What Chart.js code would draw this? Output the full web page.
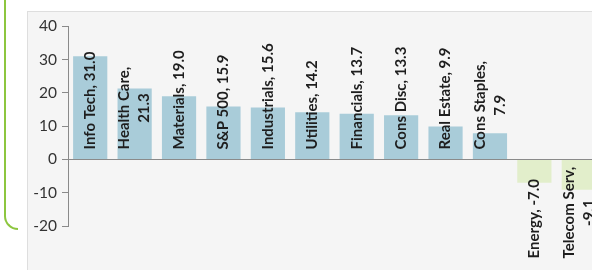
<!DOCTYPE html>
<html>
<head>
<meta charset="utf-8">
<script src="https://cdn.jsdelivr.net/npm/chart.js@4.4.1/dist/chart.umd.min.js"></script>
<style>
    html, body { margin: 0; padding: 0; background: #fff; overflow: hidden; width: 592px; height: 270px; }
    #bracket {
        position: absolute; left: 4px; top: -10px; width: 12px; height: 238px;
        border-left: 2.5px solid #8dc63f; border-bottom: 2.5px solid #8dc63f;
        border-bottom-left-radius: 14px;
    }
    #panel {
        position: absolute; left: 27px; top: 11px; width: 600px; height: 300px;
        background: #f5f5f5; border-top: 1px solid #dedede; border-left: 1px solid #dedede;
    }
    #wrap { position: absolute; left: 27px; top: 12px; width: 574px; height: 258px; }
</style>
</head>
<body>
<div id="bracket"></div>
<div id="panel"></div>
<div id="wrap"><canvas id="sectorChart"></canvas></div>
<script>
const categories = ['Info Tech', 'Health Care', 'Materials', 'S&P 500', 'Industrials', 'Utilities',
    'Financials', 'Cons Disc', 'Real Estate', 'Cons Staples', 'Energy', 'Telecom Serv'];
const returns = [31.0, 21.3, 19.0, 15.9, 15.6, 14.2, 13.7, 13.3, 9.9, 7.9, -7.0, -9.1];
// labels that Excel wrapped onto two lines
const wrapped = ['Health Care', 'Cons Staples', 'Telecom Serv'];
const yTicks = [40, 30, 20, 10, 0, -10, -20];

const posColor = '#a9ccd9';
const negColor = '#e2eecb';
const labelFont = 'bold 15px Lato';

function labelLines(i) {
    const v = returns[i].toFixed(1);
    if (wrapped.includes(categories[i])) return [categories[i] + ',', v];
    return [categories[i] + ', ' + v];
}

const barLabels = {
    id: 'barLabels',
    afterDatasetsDraw(chart) {
        const ctx = chart.ctx;
        const meta = chart.getDatasetMeta(0);
        const zero = chart.scales.y.getPixelForValue(0);
        ctx.save();
        ctx.font = labelFont;
        ctx.fillStyle = '#1e1e1e';
        ctx.textAlign = 'center';
        ctx.textBaseline = 'middle';
        meta.data.forEach((bar, i) => {
            const lines = labelLines(i);
            const widest = Math.max(...lines.map(l => ctx.measureText(l).width));
            const start = returns[i] >= 0 ? zero - 10 : zero + 99;
            const lineH = 20;
            ctx.save();
            ctx.translate(bar.x, start);
            ctx.rotate(-Math.PI / 2);
            lines.forEach((line, k) => {
                const off = (k - (lines.length - 1) / 2) * lineH;
                ctx.fillText(line, widest / 2, off);
            });
            ctx.restore();
        });
        ctx.restore();
    }
};

const ctx = document.getElementById('sectorChart').getContext('2d');
new Chart(ctx, {
    type: 'bar',
    data: {
        labels: categories,
        datasets: [{
            data: returns,
            backgroundColor: returns.map(v => v >= 0 ? posColor : negColor),
            barPercentage: 0.77,
            categoryPercentage: 1.0
        }]
    },
    options: {
        responsive: true,
        maintainAspectRatio: false,
        animation: false,
        layout: { padding: { top: 13, bottom: 44, right: 0, left: 0 } },
        scales: {
            x: { display: false },
            y: {
                min: -20,
                max: 40,
                afterFit: s => { s.width = 41; },
                afterBuildTicks: s => { s.ticks = yTicks.map(v => ({ value: v })); },
                ticks: {
                    color: '#333',
                    font: { family: 'Lato', size: 15.5 },
                    padding: 5
                },
                border: { display: true, color: '#8a8a8a', width: 1 },
                grid: {
                    color: c => c.tick && c.tick.value === 0 ? '#8a8a8a' : 'transparent',
                    tickColor: '#8a8a8a',
                    tickLength: 6,
                    drawOnChartArea: true
                }
            }
        },
        plugins: {
            legend: { display: false },
            tooltip: { enabled: false }
        }
    },
    plugins: [barLabels]
});
</script>
</body>
</html>
